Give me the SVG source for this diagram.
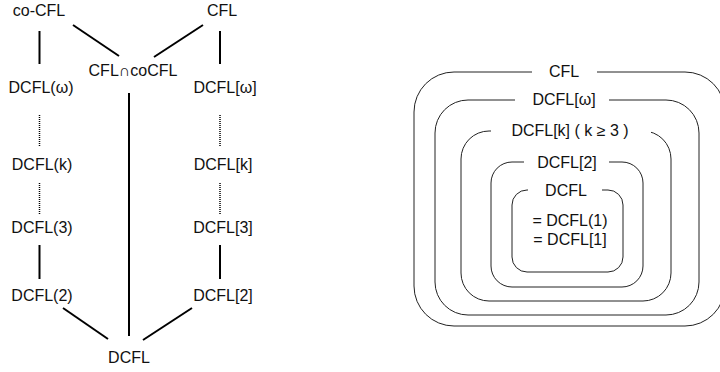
<svg xmlns="http://www.w3.org/2000/svg" width="720" height="372" viewBox="0 0 720 372">
<style>
text{font-family:"Liberation Sans",Arial,sans-serif;font-size:16px;fill:#111;}
.m{text-anchor:middle;}
.e{stroke:#000;stroke-width:2;fill:none;}
.d{stroke:#000;stroke-width:1.5;stroke-dasharray:1 1;fill:none;}
.b{stroke:#222;stroke-width:1;fill:none;}
.g{fill:#fff;stroke:none;}
</style>
<rect width="720" height="372" fill="#fff"/>
<g id="connectors">
<line class="e" x1="39.5" y1="31" x2="39.5" y2="64"/>
<line class="e" x1="220" y1="31" x2="220" y2="64"/>
<line class="e" x1="73" y1="25" x2="119" y2="56"/>
<line class="e" x1="203" y1="25" x2="154" y2="57"/>
<line class="e" x1="129" y1="93" x2="129" y2="336"/>
<line class="d" x1="39.5" y1="115" x2="39.5" y2="147"/>
<line class="d" x1="220" y1="115" x2="220" y2="147"/>
<line class="d" x1="39.5" y1="183" x2="39.5" y2="215"/>
<line class="d" x1="220" y1="183" x2="220" y2="215"/>
<line class="e" x1="39.5" y1="245" x2="39.5" y2="279"/>
<line class="e" x1="220" y1="245" x2="220" y2="279"/>
<line class="e" x1="63" y1="308" x2="108" y2="339"/>
<line class="e" x1="192" y1="308" x2="143" y2="340"/>
</g>
<g id="n-coCFL"><text x="39" y="16" class="m">co-CFL</text></g>
<g id="n-CFL"><text x="222" y="16" class="m">CFL</text></g>
<g id="n-CFLcap"><text x="133" y="76" class="m">CFL∩coCFL</text></g>
<g id="n-DCFLo"><text x="41" y="93" class="m">DCFL(ω)</text></g>
<g id="n-DCFLbo"><text x="225" y="93" class="m">DCFL[ω]</text></g>
<g id="n-DCFLk"><text x="42" y="170" class="m">DCFL(k)</text></g>
<g id="n-DCFLbk"><text x="223" y="170" class="m">DCFL[k]</text></g>
<g id="n-DCFL3"><text x="42" y="233" class="m">DCFL(3)</text></g>
<g id="n-DCFLb3"><text x="223" y="233" class="m">DCFL[3]</text></g>
<g id="n-DCFL2"><text x="42" y="301" class="m">DCFL(2)</text></g>
<g id="n-DCFLb2"><text x="223" y="301" class="m">DCFL[2]</text></g>
<g id="n-DCFL"><text x="129" y="363" class="m">DCFL</text></g>
<g id="box-CFL">
<rect class="b" x="414" y="72" width="311" height="254" rx="40"/>
<rect class="g" x="532" y="68" width="65" height="8"/>
<text x="564" y="77" class="m">CFL</text>
</g>
<g id="box-DCFLo">
<rect class="b" x="435" y="100" width="264" height="215" rx="33"/>
<rect class="g" x="515" y="96" width="94" height="8"/>
<text x="564" y="105" class="m">DCFL[ω]</text>
</g>
<g id="box-DCFLk">
<rect class="b" x="461" y="131" width="210" height="170" rx="28"/>
<rect class="g" x="491" y="127" width="160" height="8"/>
<text x="570" y="136" class="m">DCFL[k] ( k ≥ 3 )</text>
</g>
<g id="box-DCFL2">
<rect class="b" x="491" y="162" width="152" height="125" rx="21"/>
<rect class="g" x="524" y="158" width="85" height="8"/>
<text x="567" y="168" class="m">DCFL[2]</text>
</g>
<g id="box-DCFL">
<rect class="b" x="512" y="190" width="111" height="82" rx="15"/>
<rect class="g" x="528" y="186" width="74" height="8"/>
<text x="566" y="196" class="m">DCFL</text>
<text x="570" y="226" class="m">= DCFL(1)</text>
<text x="570" y="245" class="m">= DCFL[1]</text>
</g>
</svg>
